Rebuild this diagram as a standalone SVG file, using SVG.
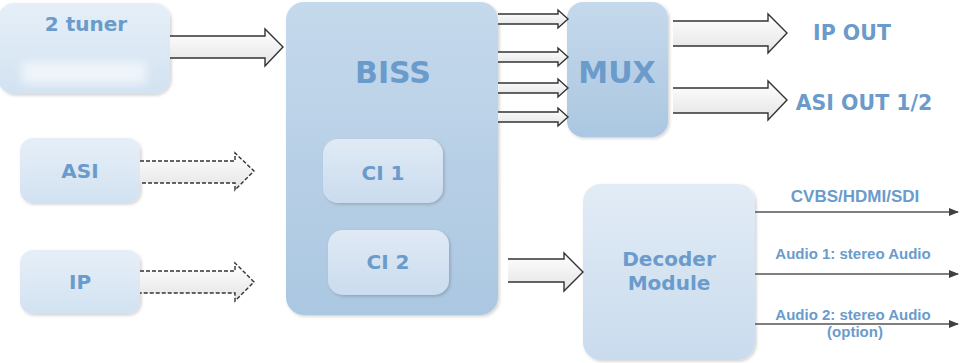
<svg xmlns="http://www.w3.org/2000/svg" width="960" height="363" viewBox="0 0 960 363">
<defs>
<linearGradient id="gLight" x1="0" y1="0" x2="0" y2="1"><stop offset="0" stop-color="#e6eff8"/><stop offset="1" stop-color="#d2e2f1"/></linearGradient>
<linearGradient id="gMid" x1="0" y1="0" x2="0" y2="1"><stop offset="0" stop-color="#c5d9ec"/><stop offset="1" stop-color="#abc7e1"/></linearGradient>
<linearGradient id="gInner" x1="0" y1="0" x2="0" y2="1"><stop offset="0" stop-color="#e0eaf5"/><stop offset="1" stop-color="#cadcee"/></linearGradient>
<linearGradient id="gDec" x1="0" y1="0" x2="0" y2="1"><stop offset="0" stop-color="#e2ecf6"/><stop offset="1" stop-color="#c9dbed"/></linearGradient>
<linearGradient id="gArrow" x1="0" y1="0" x2="0" y2="1"><stop offset="0" stop-color="#ffffff"/><stop offset="1" stop-color="#e4e4e4"/></linearGradient>
<filter id="sh" x="-10%" y="-10%" width="130%" height="130%"><feDropShadow dx="1.5" dy="1.5" stdDeviation="1.5" flood-color="#000" flood-opacity="0.18"/></filter>
<filter id="blur" x="-20%" y="-50%" width="140%" height="200%"><feGaussianBlur stdDeviation="4"/></filter>
<marker id="tri" markerWidth="10" markerHeight="8" refX="9" refY="4" orient="auto" markerUnits="userSpaceOnUse"><path d="M0,0 L10,4 L0,8 Z" fill="#404040"/></marker>
</defs>
<style>
.t{font-family:"DejaVu Sans","Liberation Sans",Arial,sans-serif;font-weight:bold;fill:#6a9bcb;text-anchor:middle}
.s{font-family:"Liberation Sans",Arial,sans-serif;font-weight:bold;fill:#6a9bcb;text-anchor:middle}
.arr{fill:url(#gArrow);stroke:#333;stroke-width:1.4;stroke-linejoin:miter}
.dash{stroke-dasharray:4 2}
.ln{stroke:#555;stroke-width:1.3;fill:none}
</style>
<rect width="960" height="363" fill="#fff"/>
<g id="tuner"><rect x="-2" y="3" width="172" height="91" rx="16" fill="url(#gLight)" filter="url(#sh)"/><rect x="22" y="62" width="124" height="22" fill="#f4f8fc" opacity="0.8" filter="url(#blur)"/><text class="t" x="86" y="31" font-size="20">2 tuner</text></g>
<g id="asi"><rect x="20" y="138" width="120" height="65" rx="13" fill="url(#gLight)" filter="url(#sh)"/><text class="t" x="80" y="178" font-size="20">ASI</text></g>
<g id="ip"><rect x="20" y="250" width="120" height="64" rx="13" fill="url(#gLight)" filter="url(#sh)"/><text class="t" x="80" y="289" font-size="20">IP</text></g>
<g id="biss"><rect x="286" y="2" width="212" height="313" rx="18" fill="url(#gMid)" filter="url(#sh)"/><text class="t" x="393" y="83" font-size="30">BISS</text></g>
<g id="ci1"><rect x="323" y="139" width="120" height="64" rx="15" fill="url(#gInner)" filter="url(#sh)"/><text class="t" x="383" y="180" font-size="20">CI 1</text></g>
<g id="ci2"><rect x="328" y="230" width="121" height="65" rx="15" fill="url(#gInner)" filter="url(#sh)"/><text class="t" x="388" y="269" font-size="20">CI 2</text></g>
<g id="mux"><rect x="567" y="2" width="101" height="135" rx="16" fill="url(#gMid)" filter="url(#sh)"/><text class="t" x="617" y="83" font-size="30">MUX</text></g>
<g id="decoder"><rect x="583" y="184" width="172" height="176" rx="18" fill="url(#gDec)" filter="url(#sh)"/><text class="t" x="669" y="266" font-size="20">Decoder</text><text class="t" x="669" y="290" font-size="20">Module</text></g>
<g id="connectors">
<path class="arr" d="M170,36 H265 V29 L283,47 L265,66 V58 H170"/>
<path class="arr dash" d="M140,161 H235 V153 L254,171 L235,190 V183 H140"/>
<path class="arr dash" d="M140,271 H235 V263 L254,282 L235,301 V293 H140"/>
<path class="arr" d="M498,14 H558 V10 L568,19 L558,28 V24 H498"/>
<path class="arr" d="M498,52 H558 V48 L568,57 L558,66 V62 H498"/>
<path class="arr" d="M498,83 H558 V79 L568,88 L558,97 V93 H498"/>
<path class="arr" d="M498,112 H558 V108 L568,117 L558,126 V122 H498"/>
<path class="arr" d="M673,21 H768 V14 L787,33 L768,53 V46 H673"/>
<path class="arr" d="M673,88 H768 V81 L787,100 L768,120 V113 H673"/>
<path class="arr" d="M508,259 H564 V253 L583,272 L564,291 V282 H508"/>
<line class="ln" x1="755" y1="212" x2="958" y2="212" marker-end="url(#tri)"/>
<line class="ln" x1="755" y1="274" x2="958" y2="274" marker-end="url(#tri)"/>
<line class="ln" x1="755" y1="324" x2="958" y2="324" marker-end="url(#tri)"/>
</g>
<text class="t" x="852" y="40" font-size="20.5">IP OUT</text>
<text class="t" x="864" y="110" font-size="20.5">ASI OUT 1/2</text>
<text class="s" x="855" y="202" font-size="17">CVBS/HDMI/SDI</text>
<text class="s" x="853" y="259" font-size="15">Audio 1: stereo Audio</text>
<text class="s" x="853" y="320" font-size="15">Audio 2: stereo Audio</text>
<text class="s" x="855" y="337" font-size="15">(option)</text>
</svg>
